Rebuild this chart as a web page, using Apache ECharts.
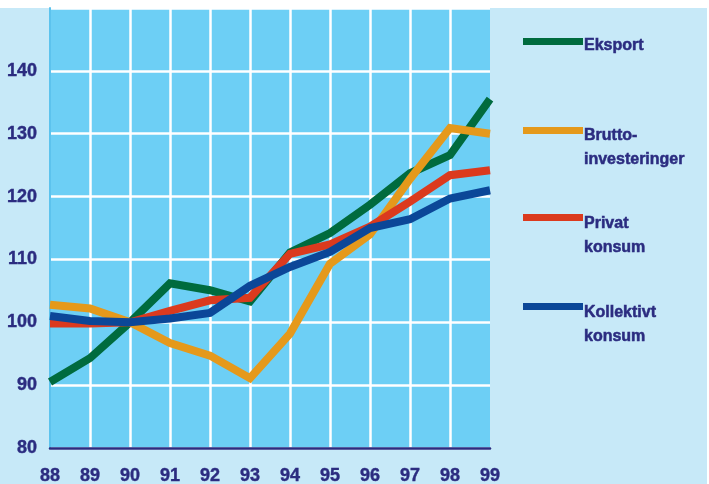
<!DOCTYPE html>
<html>
<head>
<meta charset="utf-8">
<title>Eksport, investeringer og konsum 1988–1999</title>
<script src="https://cdn.jsdelivr.net/npm/echarts@6/dist/echarts.min.js"></script>
<style>
  html, body { margin: 0; padding: 0; background: #ffffff; }
  #chart { width: 709px; height: 484px; }
</style>
</head>
<body>
<div id="chart"></div>
<script>
// Years on the horizontal axis
const years = ['88', '89', '90', '91', '92', '93', '94', '95', '96', '97', '98', '99'];

// Volume indices, 1990 = 100
const eksport = [90.5, 94.3, 100, 106.2, 105.1, 103.3, 111.1, 114.2, 118.7, 123.7, 126.6, 135.5];
const bruttoinvesteringer = [102.8, 102.2, 100, 96.7, 94.7, 91.1, 98.2, 109.3, 114.0, 122.8, 130.9, 130.0];
const privatKonsum = [99.8, 99.8, 100, 101.8, 103.5, 103.9, 110.9, 112.4, 115.2, 119.2, 123.4, 124.2];
const kollektivtKonsum = [101.0, 100.2, 100, 100.6, 101.5, 105.8, 108.8, 111.2, 115.0, 116.4, 119.7, 121.0];

// Y axis range and step
const yMin = 80;
const yMax = 150;
const yStep = 10;

const NAVY = '#2b2c80';
const textFont = "'Liberation Sans', Arial, sans-serif";

// Legend entries: label lines and the spacer that drops the text below the swatch
const seriesDefs = [
  { name: 'Eksport', lines: ['Eksport'], data: eksport, color: '#006b3e', top: 29, gap: 8 },
  { name: 'Bruttoinvesteringer', lines: ['Brutto-', 'investeringer'], data: bruttoinvesteringer, color: '#e5991b', top: 106, gap: 34 },
  { name: 'Privat konsum', lines: ['Privat', 'konsum'], data: privatKonsum, color: '#db3a1e', top: 193, gap: 36 },
  { name: 'Kollektivt konsum', lines: ['Kollektivt', 'konsum'], data: kollektivtKonsum, color: '#0b4798', top: 282, gap: 36 }
];

const chart = echarts.init(document.getElementById('chart'), null, { renderer: 'canvas' });

chart.setOption({
  animation: false,
  backgroundColor: '#ffffff',
  graphic: [{
    type: 'rect',
    z: -10,
    silent: true,
    shape: { x: 0, y: 8, width: 707, height: 476 },
    style: { fill: '#c7e9f8' }
  }],
  grid: {
    left: 50, right: 219, top: 8, bottom: 36,
    outerBoundsMode: 'none',
    containLabel: false,
    show: true,
    backgroundColor: '#6dcff5',
    borderWidth: 0
  },
  legend: seriesDefs.map(s => ({
    data: [s.name],
    left: 523,
    top: s.top,
    padding: 0,
    orient: 'vertical',
    icon: 'rect',
    itemWidth: 60,
    itemHeight: 7,
    selectedMode: false,
    formatter: () => ['{gap| }'].concat(s.lines.map(l => '{t|' + l + '}')).join('\n'),
    textStyle: {
      padding: [0, 0, 0, -4],
      rich: {
        gap: { fontSize: 1, lineHeight: s.gap },
        t: {
          color: NAVY,
          fontFamily: textFont,
          fontWeight: 'bold',
          fontSize: 16,
          lineHeight: 24,
          textBorderColor: NAVY,
          textBorderWidth: 0.5
        }
      }
    }
  })),
  xAxis: {
    type: 'category',
    data: years,
    boundaryGap: false,
    axisLine: { show: true, lineStyle: { color: NAVY, width: 2.5 } },
    axisTick: { show: false },
    axisLabel: {
      color: NAVY,
      fontFamily: textFont,
      fontWeight: 'bold',
      fontSize: 18,
      margin: 19,
      textBorderColor: NAVY,
      textBorderWidth: 0.4
    },
    splitLine: {
      show: true,
      interval: (idx) => idx > 0 && idx < years.length - 1,
      lineStyle: { color: '#ffffff', width: 2.5 }
    }
  },
  yAxis: {
    type: 'value',
    min: yMin,
    max: yMax,
    interval: yStep,
    axisLine: { show: true, lineStyle: { color: '#5cc3ee', width: 2 } },
    axisTick: { show: false },
    axisLabel: {
      color: NAVY,
      fontFamily: textFont,
      fontWeight: 'bold',
      fontSize: 18,
      margin: 13,
      textBorderColor: NAVY,
      textBorderWidth: 0.4,
      formatter: (v) => (v >= yMax ? '' : String(v))
    },
    splitLine: { show: true, lineStyle: { color: '#ffffff', width: 2.5 } }
  },
  series: seriesDefs.map(s => ({
    name: s.name,
    type: 'line',
    data: s.data,
    symbol: 'none',
    color: s.color,
    lineStyle: { color: s.color, width: 8, join: 'miter' },
    itemStyle: { color: s.color }
  }))
});
</script>
</body>
</html>
